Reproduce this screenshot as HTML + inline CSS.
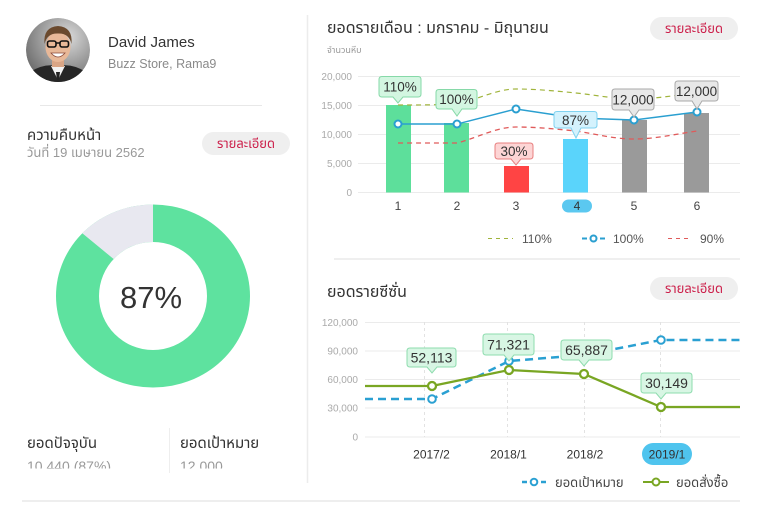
<!DOCTYPE html>
<html><head><meta charset="utf-8">
<style>
html,body{margin:0;padding:0;background:#fff;overflow:hidden;}
svg{display:block;}
text{font-family:"Liberation Sans","Noto Sans Thai","Loma","Garuda","DejaVu Sans",sans-serif;}
</style></head><body>
<svg width="763" height="519" viewBox="0 0 763 519" xmlns="http://www.w3.org/2000/svg">
<defs>
<clipPath id="av"><circle cx="58" cy="50" r="32"/></clipPath>
<radialGradient id="bg" cx="0.65" cy="0.3" r="0.85"><stop offset="0" stop-color="#dadada"/><stop offset="1" stop-color="#5e5e5e"/></radialGradient>
<clipPath id="clipv"><rect x="0" y="420" width="300" height="48.5"/></clipPath>
</defs>

<!-- avatar -->
<g clip-path="url(#av)">
<circle cx="58" cy="50" r="32" fill="url(#bg)"/>
<path d="M24,84 L30,72 Q44,63 58,66 Q72,63 86,72 L92,84 Z" fill="#262626"/>
<polygon points="51,66 58,80 65,66" fill="#f2f2f2"/>
<polygon points="56,72 60,72 59,80 57,80" fill="#222"/>
<rect x="52" y="58" width="12" height="9" fill="#d9a585"/>
<ellipse cx="58" cy="47" rx="12.5" ry="15" fill="#e8b898"/>
<path d="M44.5,44 Q43,27 58,26 Q73,27 71.5,44 Q69,33 58,33.5 Q47,33 44.5,44 Z" fill="#6b4a2e"/>
<rect x="47.5" y="41" width="8.5" height="6" rx="2" fill="none" stroke="#111" stroke-width="1.6"/>
<rect x="60" y="41" width="8.5" height="6" rx="2" fill="none" stroke="#111" stroke-width="1.6"/>
<line x1="56" y1="43" x2="60" y2="43" stroke="#111" stroke-width="1.4"/>
<path d="M51,53 Q58,61 65,53 Z" fill="#fff" stroke="#8a4a3a" stroke-width="0.8"/>
</g>

<text x="108" y="47" font-size="15" fill="#333">David James</text>
<text x="108" y="68" font-size="12.5" fill="#8a8a8a">Buzz Store, Rama9</text>
<line x1="40" y1="105.5" x2="262" y2="105.5" stroke="#e8e8e8" stroke-width="1"/>

<text x="27" y="140" font-size="15" fill="#333">ความคืบหน้า</text>
<text x="27" y="157" font-size="13" fill="#999">วันที่ 19 เมษายน 2562</text>
<rect x="202" y="132" width="88" height="23" rx="11.5" fill="#efefef"/>
<text x="246" y="148" font-size="13" fill="#cc1f4a" text-anchor="middle">รายละเอียด</text>

<!-- donut -->
<ellipse cx="153" cy="296" rx="97" ry="91.5" fill="#5ee29f"/>
<path d="M153,204.5 A97,91.5 0 0 0 82.3,233.3 L113.6,259 A54,54 0 0 1 153,242 Z" fill="#e8e8f0"/>
<ellipse cx="153" cy="296" rx="54" ry="54" fill="#fff"/>
<text x="151" y="308" font-size="31" fill="#333" text-anchor="middle">87%</text>

<text x="27" y="448" font-size="15" fill="#333">ยอดปัจจุบัน</text>
<text x="180" y="448" font-size="15" fill="#333">ยอดเป้าหมาย</text>
<g clip-path="url(#clipv)">
<text x="27" y="471" font-size="14" fill="#999">10,440 (87%)</text>
<text x="180" y="471" font-size="14" fill="#999">12,000</text>
</g>
<line x1="169.5" y1="428" x2="169.5" y2="473" stroke="#eee" stroke-width="1"/>

<line x1="307.5" y1="15" x2="307.5" y2="483" stroke="#ececec" stroke-width="1.5"/>
<line x1="22" y1="501" x2="740" y2="501" stroke="#eeeeee" stroke-width="2"/>

<!-- chart 1 -->
<text x="327" y="33" font-size="16" fill="#333">ยอดรายเดือน : มกราคม - มิถุนายน</text>
<rect x="650" y="17" width="88" height="23" rx="11.5" fill="#efefef"/>
<text x="694" y="33" font-size="13" fill="#cc1f4a" text-anchor="middle">รายละเอียด</text>
<text x="327" y="53" font-size="9" fill="#999">จำนวนหีบ</text>

<g stroke="#ebebeb" stroke-width="1">
<line x1="358" y1="76.5" x2="740" y2="76.5"/>
<line x1="358" y1="105.5" x2="740" y2="105.5"/>
<line x1="358" y1="134.5" x2="740" y2="134.5"/>
<line x1="358" y1="163.5" x2="740" y2="163.5"/>
<line x1="358" y1="192.5" x2="740" y2="192.5"/>
</g>
<g font-size="10" fill="#aaa" text-anchor="end">
<text x="352" y="80">20,000</text>
<text x="352" y="109">15,000</text>
<text x="352" y="138">10,000</text>
<text x="352" y="167">5,000</text>
<text x="352" y="196">0</text>
</g>

<rect x="386" y="105" width="25" height="87.5" fill="#5ddf9b"/>
<rect x="444" y="123" width="25" height="69.5" fill="#5ddf9b"/>
<rect x="504" y="166" width="25" height="26.5" fill="#ff4444"/>
<rect x="563" y="139" width="25" height="53.5" fill="#5ad4fb"/>
<rect x="622" y="120" width="25" height="72.5" fill="#9a9a9a"/>
<rect x="684" y="113" width="25" height="79.5" fill="#9a9a9a"/>

<path d="M398,105 C418,105 437,105 457,104 C477,100 496,89 516,89 C536,89 556,91 576,93 C596,95 614,99 634,99 C655,99 676,95 697,93" fill="none" stroke="#a0b43c" stroke-width="1.2" stroke-dasharray="5 4"/>
<path d="M398,143 C418,143 437,143 457,143 C477,138 496,127 516,127 C536,127 556,129 576,131 C596,134 614,139 634,139 C655,139 676,134 697,131" fill="none" stroke="#e05a5a" stroke-width="1.3" stroke-dasharray="5 4"/>
<polyline points="398,124 457,124 516,109 576,118 634,120 697,112" fill="none" stroke="#2a9fd0" stroke-width="1.4"/>
<g fill="#fff" stroke="#2a9fd0" stroke-width="2">
<circle cx="398" cy="124" r="3.5"/>
<circle cx="457" cy="124" r="3.5"/>
<circle cx="516" cy="109" r="3.5"/>
<circle cx="634" cy="120" r="3.5"/>
<circle cx="697" cy="112" r="3.5"/>
</g>

<!-- tooltips chart1 -->
<g stroke-width="1">
<path d="M382,76.5 H418 Q421,76.5 421,79.5 V94 Q421,97 418,97 H403 L398,103 L393,97 H382 Q379,97 379,94 V79.5 Q379,76.5 382,76.5 Z" fill="#d3f6e1" stroke="#86d9a8"/>
<path d="M439,89.5 H474 Q477,89.5 477,92.5 V106 Q477,109 474,109 H462 L457,116 L452,109 H439 Q436,109 436,106 V92.5 Q436,89.5 439,89.5 Z" fill="#d3f6e1" stroke="#86d9a8"/>
<path d="M498,143 H530 Q533,143 533,146 V156 Q533,159 530,159 H521 L516,165 L511,159 H498 Q495,159 495,156 V146 Q495,143 498,143 Z" fill="#fdd5d5" stroke="#e88080"/>
<path d="M557,111.5 H594 Q597,111.5 597,114.5 V125 Q597,128 594,128 H581 L576,138 L571,128 H557 Q554,128 554,125 V114.5 Q554,111.5 557,111.5 Z" fill="#d4f2fd" stroke="#80d2f0"/>
<path d="M615,89 H651 Q654,89 654,92 V107 Q654,110 651,110 H639 L634,117 L629,110 H615 Q612,110 612,107 V92 Q612,89 615,89 Z" fill="#e8e8e8" stroke="#aaaaaa"/>
<path d="M678,81 H715 Q718,81 718,84 V98 Q718,101 715,101 H702 L697,109 L692,101 H678 Q675,101 675,98 V84 Q675,81 678,81 Z" fill="#e8e8e8" stroke="#aaaaaa"/>
</g>
<g font-size="13.5" fill="#333" text-anchor="middle">
<text x="400" y="91.5">110%</text>
<text x="456.5" y="104">100%</text>
<text x="514" y="156">30%</text>
<text x="575.5" y="125">87%</text>
<text x="633" y="104.5">12,000</text>
<text x="696.5" y="96">12,000</text>
</g>

<rect x="562" y="199.5" width="30" height="13" rx="6.5" fill="#5bc8f0"/>
<g font-size="12" fill="#444" text-anchor="middle">
<text x="398" y="210">1</text>
<text x="457" y="210">2</text>
<text x="516" y="210">3</text>
<text x="577" y="210" fill="#333">4</text>
<text x="634" y="210">5</text>
<text x="697" y="210">6</text>
</g>

<!-- legend 1 -->
<line x1="488" y1="238.5" x2="513" y2="238.5" stroke="#a0b43c" stroke-width="1" stroke-dasharray="4 4"/>
<text x="522" y="243" font-size="12" fill="#555">110%</text>
<line x1="582" y1="238.5" x2="587" y2="238.5" stroke="#2a9fd0" stroke-width="2"/>
<line x1="600" y1="238.5" x2="605" y2="238.5" stroke="#2a9fd0" stroke-width="2"/>
<circle cx="593.5" cy="238.5" r="3" fill="#fff" stroke="#2a9fd0" stroke-width="2"/>
<text x="613" y="243" font-size="12" fill="#555">100%</text>
<line x1="668" y1="238.5" x2="692" y2="238.5" stroke="#e05a5a" stroke-width="1" stroke-dasharray="4 4"/>
<text x="700" y="243" font-size="12" fill="#555">90%</text>

<line x1="334" y1="259" x2="740" y2="259" stroke="#efefef" stroke-width="2"/>

<!-- chart 2 -->
<text x="327" y="297" font-size="16" fill="#333">ยอดรายซีซั่น</text>
<rect x="650" y="277" width="88" height="23" rx="11.5" fill="#efefef"/>
<text x="694" y="293" font-size="13" fill="#cc1f4a" text-anchor="middle">รายละเอียด</text>

<g stroke="#ebebeb" stroke-width="1">
<line x1="365" y1="322.5" x2="740" y2="322.5"/>
<line x1="365" y1="351" x2="740" y2="351"/>
<line x1="365" y1="379.5" x2="740" y2="379.5"/>
<line x1="365" y1="408" x2="740" y2="408"/>
<line x1="365" y1="437" x2="740" y2="437"/>
</g>
<g stroke="#e2e2e2" stroke-width="1" stroke-dasharray="3 3">
<line x1="424.5" y1="322" x2="424.5" y2="437"/>
<line x1="507.5" y1="322" x2="507.5" y2="437"/>
<line x1="584.5" y1="322" x2="584.5" y2="437"/>
<line x1="660.5" y1="322" x2="660.5" y2="437"/>
</g>
<g font-size="10" fill="#aaa" text-anchor="end">
<text x="358" y="326">120,000</text>
<text x="358" y="354.5">90,000</text>
<text x="358" y="383">60,000</text>
<text x="358" y="411.5">30,000</text>
<text x="358" y="440.5">0</text>
</g>

<polyline points="365,399 432,399 509,361 584,355 661,340 740,340" fill="none" stroke="#2aa0d2" stroke-width="2.5" stroke-dasharray="8 5"/>
<polyline points="365,386 432,386 509,370 584,374 661,407 740,407" fill="none" stroke="#79a623" stroke-width="2.3"/>
<g fill="#fff" stroke="#2aa0d2" stroke-width="2">
<circle cx="432" cy="399" r="3.8"/>
<circle cx="509" cy="361" r="3.8"/>
<circle cx="584" cy="355" r="3.8"/>
<circle cx="661" cy="340" r="3.8"/>
</g>
<g fill="#fff" stroke="#79a623" stroke-width="2.3">
<circle cx="432" cy="386" r="4"/>
<circle cx="509" cy="370" r="4"/>
<circle cx="584" cy="374" r="4"/>
<circle cx="661" cy="407" r="4"/>
</g>

<g stroke-width="1" fill="#d8f6e4" stroke="#8edcae">
<path d="M410,348 H453 Q456,348 456,351 V364 Q456,367 453,367 H437 L432,373 L427,367 H410 Q407,367 407,364 V351 Q407,348 410,348 Z"/>
<path d="M486,334 H531 Q534,334 534,337 V352 Q534,355 531,355 H514 L509,361 L504,355 H486 Q483,355 483,352 V337 Q483,334 486,334 Z"/>
<path d="M564,340 H609 Q612,340 612,343 V357 Q612,360 609,360 H589 L584,366 L579,360 H564 Q561,360 561,357 V343 Q561,340 564,340 Z"/>
<path d="M644,373 H689 Q692,373 692,376 V390 Q692,393 689,393 H666 L661,399 L656,393 H644 Q641,393 641,390 V376 Q641,373 644,373 Z"/>
</g>
<g font-size="14" fill="#333" text-anchor="middle">
<text x="431.5" y="362.5">52,113</text>
<text x="508.5" y="349.5">71,321</text>
<text x="586.5" y="355">65,887</text>
<text x="666.5" y="388">30,149</text>
</g>

<rect x="642" y="443" width="50" height="22" rx="11" fill="#4fc4ee"/>
<g font-size="12" fill="#333" text-anchor="middle">
<text x="431.5" y="458.5">2017/2</text>
<text x="508.5" y="458.5">2018/1</text>
<text x="585" y="458.5">2018/2</text>
<text x="667" y="458.5">2019/1</text>
</g>

<!-- legend 2 -->
<line x1="522" y1="482" x2="527" y2="482" stroke="#2aa0d2" stroke-width="2.5"/>
<line x1="541" y1="482" x2="546" y2="482" stroke="#2aa0d2" stroke-width="2.5"/>
<circle cx="534" cy="482" r="3.3" fill="#fff" stroke="#2aa0d2" stroke-width="2"/>
<text x="555" y="487" font-size="13" fill="#444">ยอดเป้าหมาย</text>
<line x1="643" y1="482" x2="669" y2="482" stroke="#79a623" stroke-width="2"/>
<circle cx="656" cy="482" r="3.5" fill="#fff" stroke="#79a623" stroke-width="2"/>
<text x="676" y="487" font-size="13" fill="#444">ยอดสั่งซื้อ</text>
</svg>
</body></html>
